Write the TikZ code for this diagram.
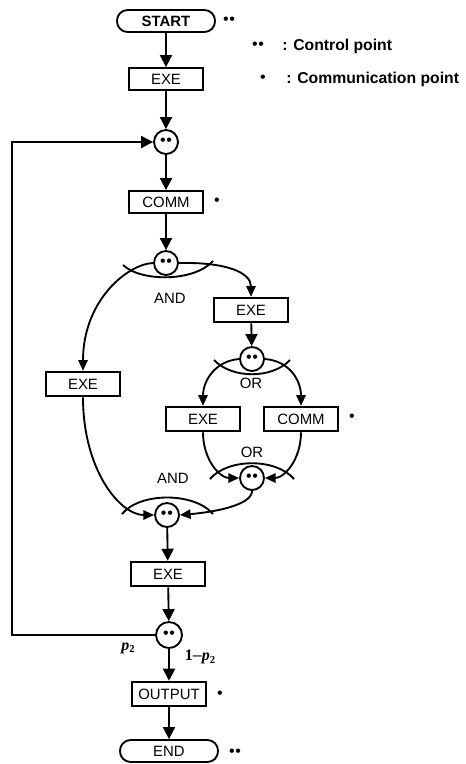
\documentclass[tikz,border=0pt]{standalone}
\usepackage{fontspec}
\setmainfont{Liberation Sans}
\newfontfamily\serifbf{Liberation Serif}
\usetikzlibrary{arrows.meta}
\newcommand\dd{\textbullet\kern0.6pt\textbullet}
\newcommand\pvar{{\serifbf\bfseries\itshape p}\raisebox{-2pt}{\serifbf\bfseries\fontsize{8}{8}\selectfont 2}}
\begin{document}
\begin{tikzpicture}[x=0.75pt,y=-0.75pt,
  box/.style={draw, line width=1.4pt, minimum width=55.5pt, minimum height=18.5pt, inner sep=0pt, font=\fontsize{11.2}{13}\selectfont},
  termbox/.style={draw, line width=1.4pt, rounded corners=8pt, minimum width=73.5pt, minimum height=16.5pt, inner sep=0pt, font=\fontsize{11.2}{13}\selectfont},
  cp/.style={draw, circle, line width=1.4pt, minimum size=18pt, inner sep=0pt, font=\fontsize{12}{12}\selectfont},
  lbl/.style={font=\fontsize{11.2}{13}\selectfont, inner sep=0pt},
  dotmark/.style={font=\fontsize{12}{12}\selectfont, inner sep=0pt},
  legend/.style={font=\bfseries\fontsize{11.8}{13}\selectfont, inner sep=0pt, anchor=west},
  plbl/.style={font=\fontsize{12}{13}\selectfont, inner sep=0pt},
  arr/.style={line width=1.4pt, -{Triangle[width=9pt,length=9pt]}},
  arrs/.style={line width=1.4pt, -{Triangle[width=7pt,length=8pt]}},
  ln/.style={line width=1.4pt},
]
\useasboundingbox (0,0) rectangle (465,764);

% main column
\node[termbox, font=\bfseries\fontsize{11.2}{13}\selectfont] (start) at (166,21) {START};
\node[box, minimum height=16.5pt] (exe1) at (166,79) {EXE};
\node[cp] (c1) at (166,142) {\dd};
\node[box, minimum height=16.5pt] (comm1) at (166,202) {COMM};
\node[cp] (c2) at (166,263) {\dd};
\node[cp] (cj) at (167,515) {\dd};
\node[box] (exeb) at (168,574) {EXE};
\node[cp, minimum size=19.5pt] (cb) at (169,635) {\dd};
\node[box, minimum width=56pt] (out) at (169,694) {OUTPUT};
\node[termbox] (end) at (169,751) {END};

% branches
\node[box] (exer) at (251,310) {EXE};
\node[box] (exel) at (83,384) {EXE};
\node[cp] (co1) at (252,359) {\dd};
\node[box] (exei) at (203,419) {EXE};
\node[box] (commi) at (301,419) {COMM};
\node[cp] (co2) at (252,478) {\dd};

% labels
\node[lbl] (and1) at (170,298) {AND};
\node[lbl] (or1) at (251,383) {OR};
\node[lbl] (or2) at (252,452) {OR};
\node[lbl] (and2) at (173,478) {AND};
\node[plbl] (pa) at (128,648) {\pvar};
\node[plbl] (pb) at (200,657) {{\serifbf\bfseries 1}--\pvar};

% marks
\node[dotmark] (m1) at (229,21) {\dd};
\node[dotmark] (m2) at (217,202) {\textbullet};
\node[dotmark] (m3) at (352,418) {\textbullet};
\node[dotmark] (m4) at (220,695) {\textbullet};
\node[dotmark] (m5) at (235,753) {\dd};

% legend
\node[dotmark] (lg1) at (258,46) {\dd};
\node[legend] (lt1) at (282,46) {: Control point};
\node[dotmark] (lg2) at (263,79) {\textbullet};
\node[legend] (lt2) at (286,79) {: Communication point};

% main arrows
\draw[arr] (start) -- (exe1);
\draw[arr] (exe1) -- (c1);
\draw[arr] (c1) -- (comm1);
\draw[arr] (comm1) -- (c2);
\draw[arr] (cj) -- (exeb);
\draw[arr] (exeb) -- (cb);
\draw[arr] (cb) -- (out);
\draw[arr] (out) -- (end);

% loop
\coordinate (lb) at (12,635);
\coordinate (lt) at (12,142);
\draw[arr] (cb.west) -- (lb) -- (lt) -- (c1.west);

% AND fork
\draw[arrs] (c2.west) .. controls (128,264) and (83,300) .. (exel.north);
\draw[arrs] (c2.east) .. controls (225,262) and (251,272) .. (exer.north);
\draw[ln] (123,265) .. controls (141,282) and (194,282) .. (213,261);

\draw[arr] (exer) -- (co1);

% OR fork
\draw[arrs] (co1.west) .. controls (215,361) and (203,381) .. (exei.north);
\draw[arrs] (co1.east) .. controls (290,361) and (301,381) .. (commi.north);
\draw[ln] (214,360) .. controls (232,379) and (272,379) .. (290,360);

% OR join
\draw[arrs] (exei.south) .. controls (203,460) and (220,478) .. (co2.west);
\draw[arrs] (commi.south) .. controls (301,460) and (284,478) .. (co2.east);
\draw[ln] (210,479) .. controls (228,458) and (276,458) .. (294,479);

% AND join
\draw[arrs] (exel.south) .. controls (83,470) and (120,515) .. (cj.west);
\draw[arrs] (co2.south) .. controls (252,505) and (215,512) .. (cj.east);
\draw[ln] (122,514) .. controls (140,492) and (194,492) .. (213,514);
\end{tikzpicture}
\end{document}
